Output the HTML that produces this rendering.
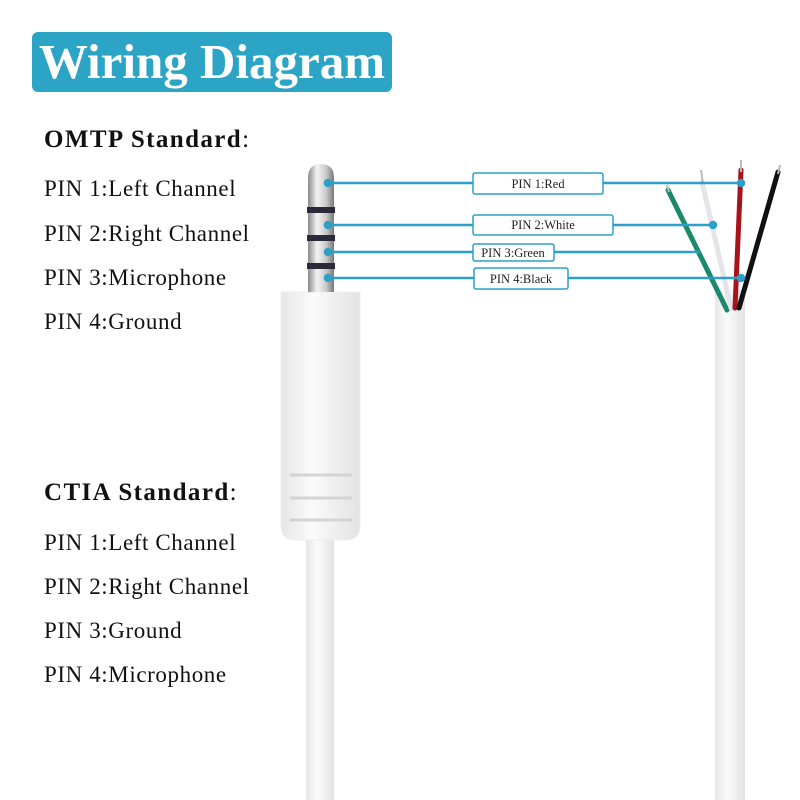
<!DOCTYPE html>
<html><head><style>
body{margin:0;width:800px;height:800px;background:#fff;position:relative;overflow:hidden;font-family:"Liberation Serif",serif;}
.t{position:absolute;left:44px;font-size:23px;letter-spacing:0.6px;color:#111;white-space:nowrap;line-height:1;}
.b{font-weight:bold;font-size:25px;letter-spacing:1.4px;}
</style></head><body>
<div style="position:absolute;left:32px;top:32px;width:360px;height:60px;background:#2ba4c6;border-radius:6px;"></div>
<div style="position:absolute;left:32px;top:32px;width:360px;height:60px;color:#fff;font-weight:bold;font-size:49px;text-align:center;line-height:60px;">Wiring Diagram</div>
<div class="t b" style="top:127px">OMTP Standard<span style="font-weight:normal">:</span></div>
<div class="t" style="top:177px">PIN 1:Left Channel</div>
<div class="t" style="top:222px">PIN 2:Right Channel</div>
<div class="t" style="top:266px">PIN 3:Microphone</div>
<div class="t" style="top:310px">PIN 4:Ground</div>
<div class="t b" style="top:480px">CTIA Standard<span style="font-weight:normal">:</span></div>
<div class="t" style="top:531px">PIN 1:Left Channel</div>
<div class="t" style="top:575px">PIN 2:Right Channel</div>
<div class="t" style="top:619px">PIN 3:Ground</div>
<div class="t" style="top:663px">PIN 4:Microphone</div>
<svg width="800" height="800" style="position:absolute;left:0;top:0">
<defs>
<linearGradient id="m" x1="0" x2="1"><stop offset="0" stop-color="#8a8a8a"/><stop offset=".35" stop-color="#f4f4f4"/><stop offset=".7" stop-color="#c9c9c9"/><stop offset="1" stop-color="#777"/></linearGradient>
<linearGradient id="w" x1="0" x2="1"><stop offset="0" stop-color="#e6e6e6"/><stop offset=".4" stop-color="#fbfbfb"/><stop offset="1" stop-color="#e2e2e2"/></linearGradient>
</defs>
<rect x="306" y="535" width="28" height="265" fill="url(#w)"/>
<path d="M281 292 H360 V525 Q360 540 345 540 H296 Q281 540 281 525 Z" fill="url(#w)" stroke="#eee"/>
<g stroke="#d4d4d4" stroke-width="3"><line x1="290" y1="475" x2="352" y2="475"/><line x1="290" y1="498" x2="352" y2="498"/><line x1="290" y1="520" x2="352" y2="520"/></g>
<path d="M308 292 V178 Q308 164 321 164 Q334 164 334 178 V292 Z" fill="url(#m)"/>
<rect x="307" y="207" width="28" height="6" fill="#2a2a3a"/>
<rect x="307" y="235" width="28" height="6" fill="#2a2a3a"/>
<rect x="307" y="263" width="28" height="6" fill="#2a2a3a"/>
<rect x="715" y="290" width="30" height="510" fill="url(#w)"/>
<g stroke-linecap="round">
<line x1="668" y1="190" x2="727" y2="310" stroke="#1a8a6a" stroke-width="5"/>
<line x1="702" y1="182" x2="731" y2="308" stroke="#e4e4ea" stroke-width="5"/>
<line x1="741" y1="170" x2="735" y2="308" stroke="#a8121a" stroke-width="5"/>
<line x1="778" y1="172" x2="739" y2="308" stroke="#111" stroke-width="5"/>
</g>
<g stroke="#bbb" stroke-width="2"><line x1="667" y1="185" x2="669" y2="192"/><line x1="701" y1="170" x2="703" y2="184"/><line x1="741" y1="160" x2="741" y2="172"/><line x1="780" y1="165" x2="778" y2="174"/></g>
<g stroke="#2aa0c8" stroke-width="2.5" fill="#2aa0c8">
<line x1="328" y1="183" x2="741" y2="183"/><circle cx="328" cy="183" r="3"/><circle cx="741" cy="183" r="3"/>
<line x1="328" y1="225" x2="713" y2="225"/><circle cx="328" cy="225" r="3"/><circle cx="713" cy="225" r="3"/>
<line x1="328" y1="252" x2="700" y2="252"/><circle cx="328" cy="252" r="3"/>
<line x1="328" y1="278" x2="741" y2="278"/><circle cx="328" cy="278" r="3"/><circle cx="741" cy="278" r="3"/>
</g>
<g fill="#fff" stroke="#2aa0c8" stroke-width="1.5">
<rect x="473" y="173" width="130" height="21" rx="2"/>
<rect x="473" y="215" width="140" height="20" rx="2"/>
<rect x="473" y="244" width="81" height="17" rx="2"/>
<rect x="474" y="268" width="94" height="21" rx="2"/>
</g>
<g font-family="Liberation Serif,serif" font-size="12.5" fill="#222" text-anchor="middle">
<text x="538" y="188">PIN 1:Red</text>
<text x="543" y="229">PIN 2:White</text>
<text x="513" y="257">PIN 3:Green</text>
<text x="521" y="283">PIN 4:Black</text>
</g>
</svg>
</body></html>
